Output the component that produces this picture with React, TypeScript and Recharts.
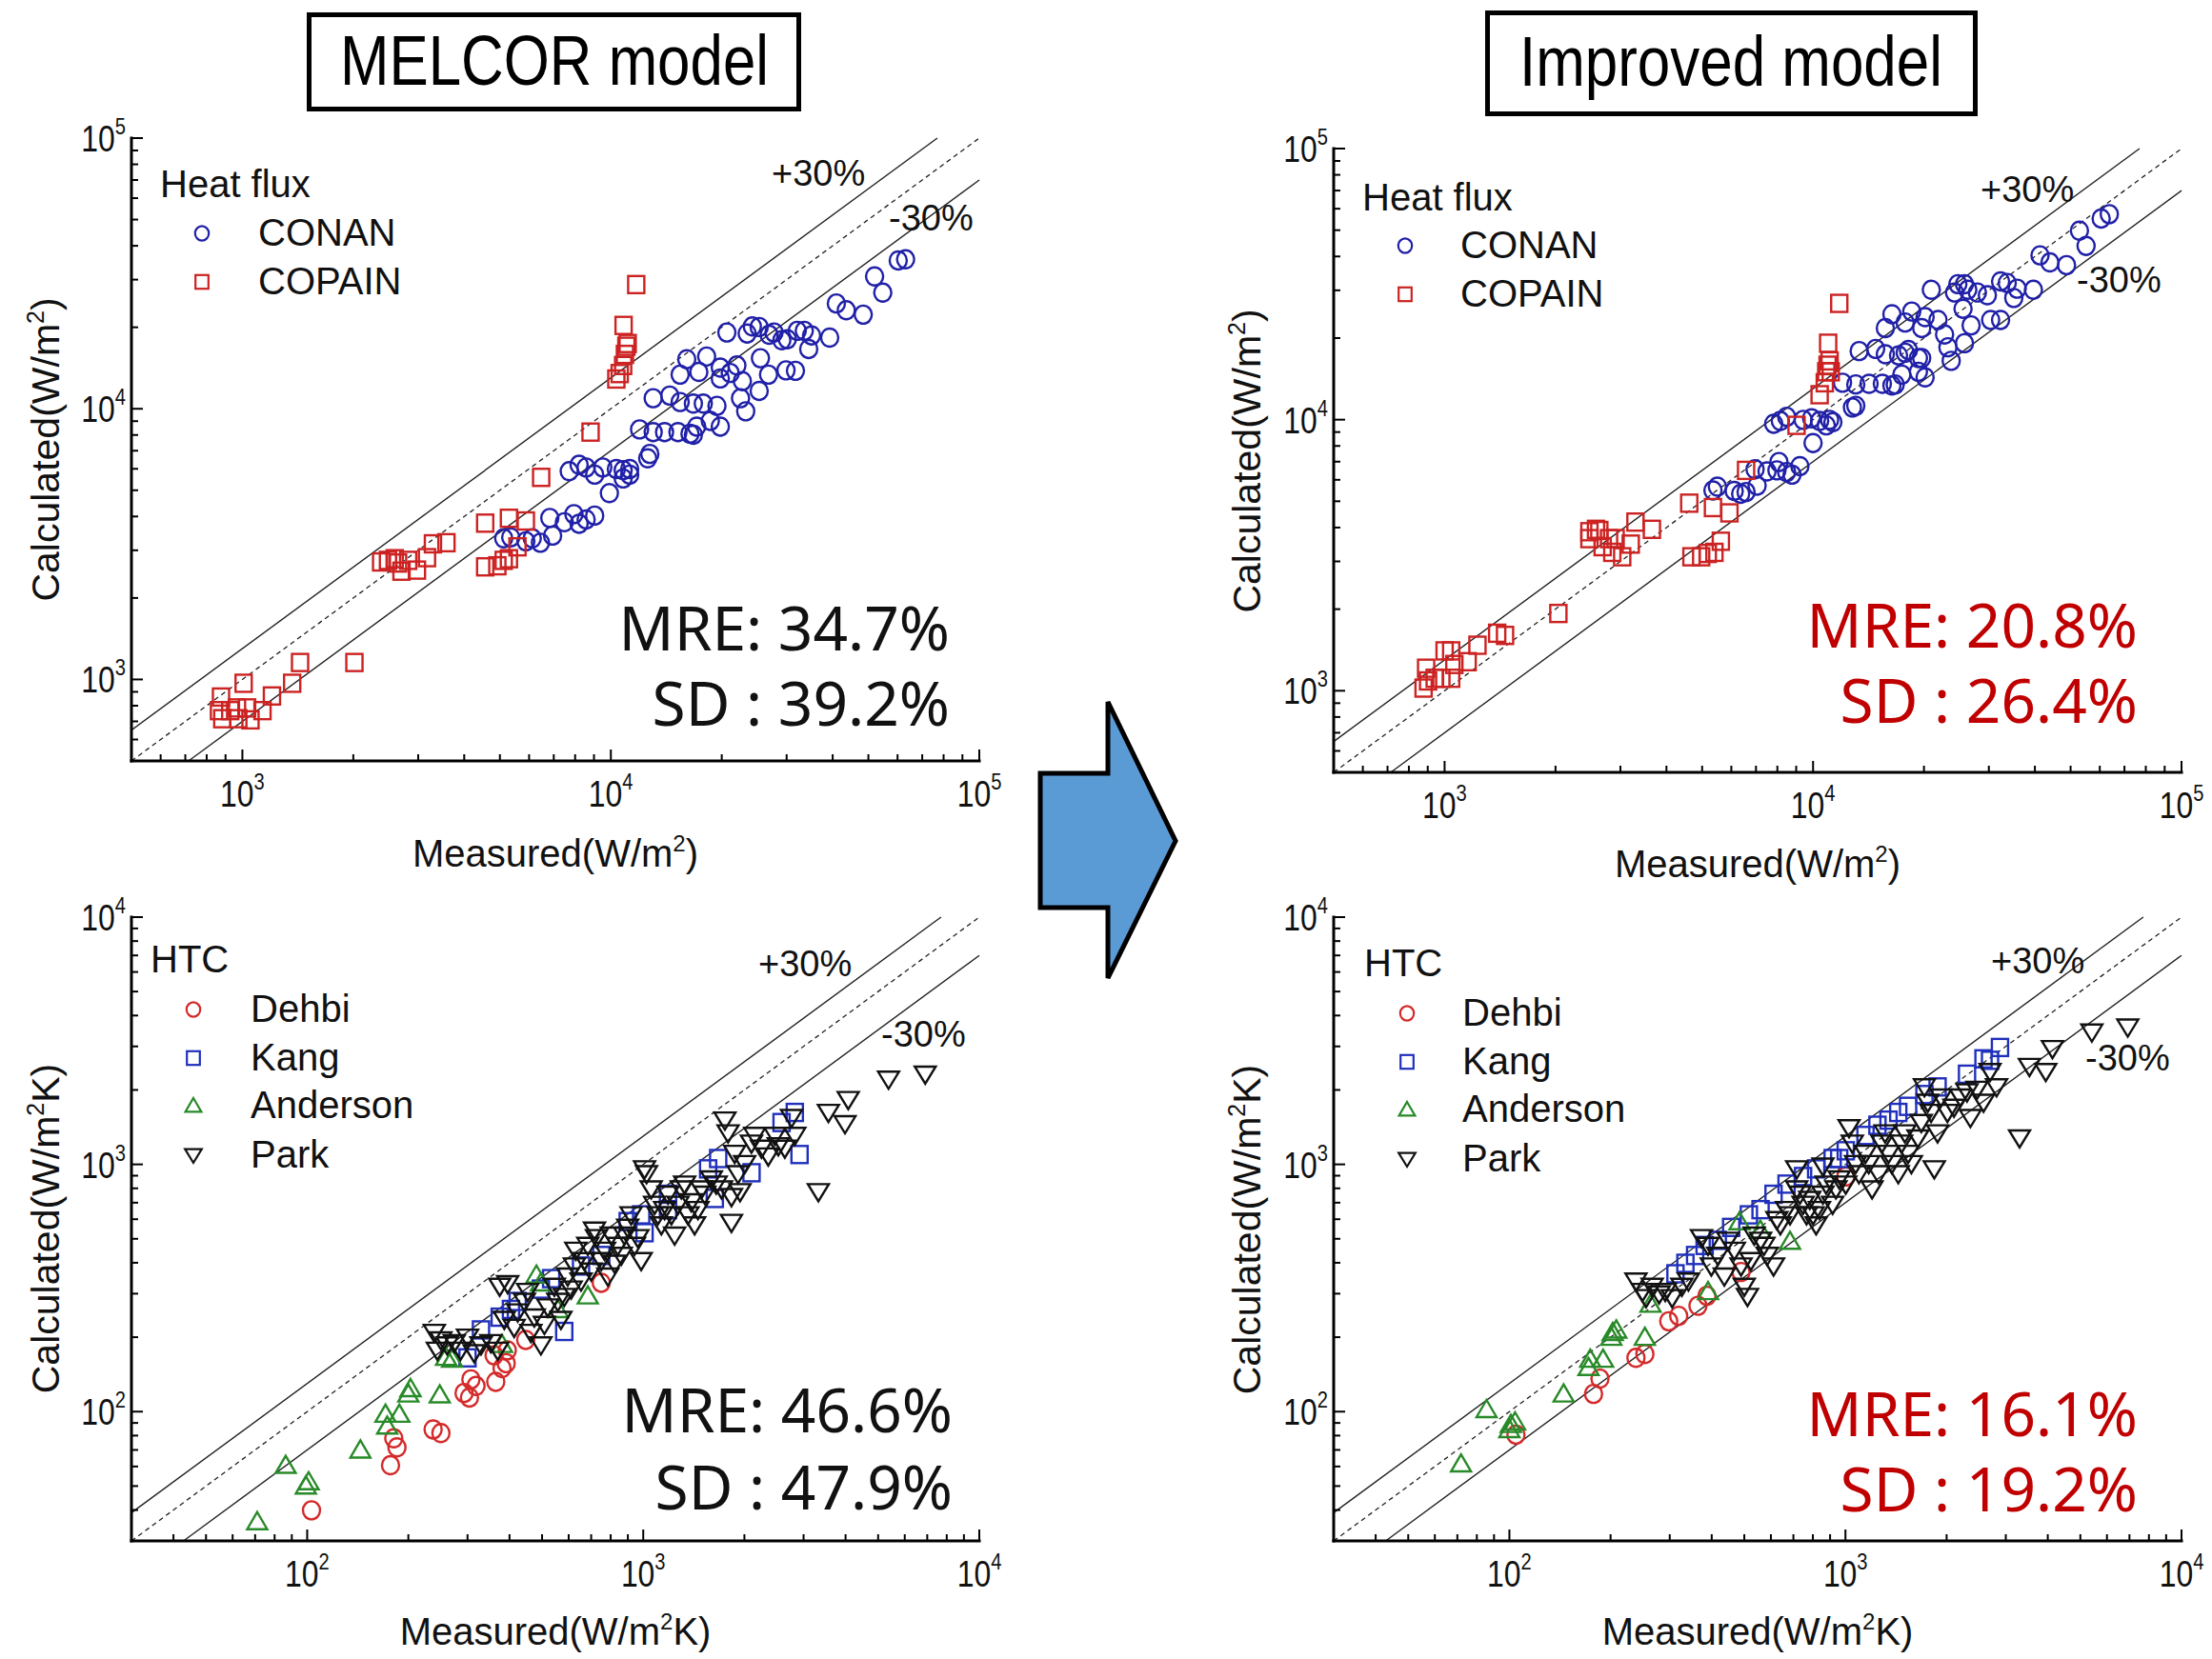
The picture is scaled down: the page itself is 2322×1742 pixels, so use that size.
import React from 'react';
import { ScatterChart, Scatter, XAxis, YAxis, ReferenceLine } from 'recharts';

const FONT = '"Liberation Sans", Arial, Helvetica, sans-serif';
const MFONT = '"Noto Sans", "Open Sans", sans-serif';

// ---------- data (measured, calculated) ----------
const melcorConan = [[5120,3320],[5350,3350],[5880,3240],[6120,3320],[6440,3200],[6950,3400],[6830,3950],[7480,3810],[7940,4080],[8200,3760],[8570,3900],[9040,4030],[7710,5880],[8200,6210],[8570,6070],[9040,5710],[9510,6070],[9910,4880],[10350,5990],[10800,5930],[11250,5710],[10800,5530],[11250,5990],[12590,6560],[12760,6810],[11970,8390],[13030,8200],[13990,8200],[15210,8200],[16400,8090],[16750,8020],[13030,10940],[14450,11190],[15420,10590],[16750,10450],[17820,10450],[17100,8590],[18620,9020],[19820,8590],[15420,13370],[16070,15240],[17330,13680],[18200,15600],[19820,14190],[19820,12940],[21090,13560],[21980,14450],[19410,10250],[22490,10940],[23230,9790],[22750,12650],[20650,19140],[23440,18970],[24210,20140],[25270,20040],[25470,15380],[25270,11640],[26790,13370],[26890,18760],[27730,19140],[29110,17910],[30130,18070],[29880,13870],[31700,13810],[32060,19410],[33500,19410],[34440,16630],[35060,18660],[39260,18320],[40930,24490],[43550,23120],[48420,22280],[51980,30830],[54700,26850],[60250,35320],[63100,35650]];
const melcorCopain = [[875,861],[864,767],[882,716],[927,767],[967,785],[975,716],[1030,785],[1052,709],[1008,968],[1134,767],[1203,869],[1365,968],[1434,1155],[2014,1155],[2380,2717],[2484,2754],[2590,2793],[2646,2692],[2703,2512],[2818,2754],[2977,2535],[3170,2818],[3290,3170],[3580,3200],[4560,2606],[4920,2630],[5120,2754],[5290,2793],[5580,3090],[4560,3780],[5290,3940],[5880,3850],[6470,5580],[8810,8200],[10350,12880],[10570,13490],[10800,14450],[10920,15880],[11020,17020],[11110,17420],[10830,20320],[11720,28760]];
const improvedConan = [[5350,5480],[5500,5660],[6110,5460],[6360,5330],[6580,5410],[7050,5710],[6960,6560],[7500,6440],[7980,6500],[8080,6980],[8480,6410],[8770,6270],[9210,6740],[7820,9660],[8150,9890],[8480,10250],[9400,9980],[9910,10120],[10420,9890],[10860,9530],[11320,9790],[10000,8200],[11090,9980],[12790,11090],[13060,11250],[12020,13680],[13060,13490],[14190,13560],[15420,13560],[16370,13370],[16710,13490],[17420,14660],[19320,15020],[20140,14320],[19320,16870],[13340,17910],[14790,18240],[15710,17420],[17060,17260],[17780,17660],[18150,18070],[19720,16870],[15710,21780],[16370,24490],[17780,22820],[18530,25060],[19720,21780],[20140,23880],[21830,23330],[22750,20610],[23230,18490],[23710,16480],[20940,30130],[24210,29440],[24720,31620],[25760,31620],[26300,30130],[26850,22280],[27930,29440],[29720,28760],[30340,23330],[32280,23330],[32280,32360],[33650,31920],[35060,28120],[35810,30410],[39630,30130],[41300,40360],[43950,38020],[48750,37150],[52840,49770],[55080,43750],[60530,55210],[63680,57280],[25530,25650],[25760,19140]];
const improvedCopain = [[877,1023],[891,1211],[902,1087],[940,1112],[980,1112],[1000,1403],[1042,1403],[1042,1112],[1063,1250],[1155,1280],[1228,1472],[1389,1630],[1459,1600],[2036,1928],[2472,3640],[2472,3860],[2576,3940],[2630,3900],[2685,3400],[2795,3640],[2852,3240],[2912,3640],[3034,3120],[3200,3475],[3296,4190],[3653,3940],[4613,4920],[4677,3120],[4970,3120],[5180,3210],[5400,3240],[5350,4740],[5620,3560],[5930,4530],[6580,6500],[9020,9530],[10420,12360],[10760,13680],[10860,15020],[10950,15880],[11090,16480],[11170,15020],[10990,19140],[11780,26850]];

const melcorDehbi = [[103,39.9],[177,60.7],[181,78],[185,71.7],[237,84.7],[250,81.9],[293,119],[304,114],[307,135],[318,127],[364,132],[380,150],[391,157],[360,169],[447,195],[750,332],[394,177]];
const melcorKang = [[329,214],[374,241],[404,259],[496,313],[582,211],[532,345],[899,587],[1009,529],[1185,757],[1560,959],[1633,728],[1671,1056],[2100,925],[2580,1476],[2825,1622],[2918,1096],[1185,656],[750,428],[653,388],[986,625],[423,279],[300,165]];
const melcorAnderson = [[71,35.9],[86.3,60.7],[99.1,50.1],[101,52.1],[144,70],[171,97.7],[173,87.5],[188,97.7],[200,118],[203,124],[248,117],[259,166],[270,163],[380,187],[481,357],[684,294],[557,259],[496,332]];
const melcorPark = [[239,209],[250,195],[261,186],[244,177],[274,190],[286,177],[300,200],[314,173],[329,186],[352,190],[369,177],[374,321],[395,329],[386,236],[413,219],[423,253],[443,279],[453,306],[474,241],[463,209],[496,186],[508,225],[520,265],[544,321],[557,279],[569,236],[582,292],[596,353],[610,313],[624,388],[630,449],[653,337],[668,408],[684,470],[700,370],[716,542],[726,505],[750,408],[767,449],[785,353],[803,517],[822,398],[840,470],[860,428],[880,517],[899,556],[920,625],[942,470],[964,505],[986,408],[1009,959],[1023,916],[1056,795],[1081,689],[1106,625],[1132,569],[1158,656],[1185,757],[1213,625],[1240,517],[1269,689],[1298,795],[1328,832],[1359,625],[1390,705],[1422,569],[1455,656],[1489,795],[1524,757],[1595,873],[1648,832],[1710,795],[1750,1510],[1788,1340],[1830,740],[1830,582],[1871,1107],[1915,916],[1941,775],[2004,1007],[2099,1218],[2147,1309],[2248,1162],[2355,1081],[2466,1309],[2523,1189],[2638,1162],[2762,1545],[2825,1309],[3320,775],[3557,1622],[3985,1459],[4074,1828],[5370,2209],[6905,2316]];

const improvedDehbi = [[104.6,80.7],[178,118],[186,136],[238,165],[253,171],[298,232],[319,244],[364,268],[387,294],[1002,893],[489,367]];
const improvedKang = [[312,361],[334,398],[357,428],[381,470],[417,493],[457,556],[516,625],[559,656],[611,757],[668,832],[748,893],[818,959],[916,1056],[1002,1135],[1147,1309],[1245,1440],[1343,1510],[1436,1622],[1536,1717],[1718,1916],[1880,2057],[2300,2316],[2575,2672],[2883,2970],[2693,2636],[958,1056]];
const improvedAnderson = [[71.8,61.5],[85.5,102],[100,84.7],[101,88.8],[104,90.9],[145,118],[172,151],[174,163],[190,163],[201,200],[203,209],[208,214],[253,200],[263,272],[390,306],[484,587],[684,489],[558,542]];
const improvedPark = [[238,337],[249,306],[255,289],[266,321],[279,299],[291,306],[305,289],[326,321],[341,337],[373,505],[390,470],[399,388],[417,428],[436,353],[447,493],[467,449],[489,388],[500,321],[511,292],[523,408],[535,517],[559,493],[572,470],[585,428],[611,388],[625,597],[640,569],[668,656],[684,625],[716,795],[732,757],[748,689],[766,625],[783,721],[801,625],[818,569],[837,656],[857,757],[876,832],[916,689],[937,795],[958,873],[1002,832],[1025,1406],[1048,1218],[1072,1007],[1097,916],[1147,1107],[1173,1007],[1200,795],[1255,916],[1283,1218],[1312,1340],[1343,1107],[1374,1007],[1436,916],[1469,1218],[1503,1340],[1536,1107],[1571,1007],[1643,1278],[1681,1476],[1718,2057],[1758,1782],[1798,1622],[1838,959],[1880,1340],[1923,1871],[2011,1622],[2103,1701],[2199,1871],[2300,1963],[2354,1545],[2462,2010],[2575,1782],[2693,2372],[2816,2057],[3297,1278],[3527,2488],[3945,2372],[4130,2938],[5410,3425],[6920,3590],[857,984],[716,959]];

// ---------- axes ----------
const fluxDomain = [500, 100000];
const htcDomain = [30, 10000];
const fluxTicks = [500,600,700,800,900,1000,2000,3000,4000,5000,6000,7000,8000,9000,10000,20000,30000,40000,50000,60000,70000,80000,90000,100000];
const htcTicks = [30,40,50,60,70,80,90,100,200,300,400,500,600,700,800,900,1000,2000,3000,4000,5000,6000,7000,8000,9000,10000];
const PLUS = 1.3;
const MINUS = 0.7;

const statsMelcorFlux = ['MRE: 34.7%', 'SD : 39.2%'];
const statsImprovedFlux = ['MRE: 20.8%', 'SD : 26.4%'];
const statsMelcorHtc = ['MRE: 46.6%', 'SD : 47.9%'];
const statsImprovedHtc = ['MRE: 16.1%', 'SD : 19.2%'];

const COLORS = {
  conan: '#2020a8',
  copain: '#cc2222',
  dehbi: '#d42a2a',
  kang: '#2030bc',
  anderson: '#288a28',
  park: '#111111',
};

const toPts = (arr: number[][]) => arr.map(([x, y]) => ({ x, y }));

const expOf = (v: number) => Math.round(Math.log10(v));
const isMajor = (v: number) => Math.abs(Math.log10(v) - expOf(v)) < 1e-9;
const MAJ = 12;
const MINL = 7;
const TICK_FS = 38;
const TICK_SX = 0.84;
const SUP_FS = 24;

function TickBottom(props: any) {
  const { x, y, payload } = props;
  const v = payload.value;
  const major = isMajor(v);
  return (
    <g>
      <line x1={x} y1={y} x2={x} y2={y - (major ? MAJ : MINL)} stroke="#000" strokeWidth={2} />
      {major && (
        <text transform={`translate(${x},${y + 48}) scale(${TICK_SX},1)`} textAnchor="middle" fontFamily={FONT} fontSize={TICK_FS} fill="#111">
          10<tspan fontSize={SUP_FS} dy={-18}>{expOf(v)}</tspan>
        </text>
      )}
    </g>
  );
}
function TickLeft(props: any) {
  const { x, y, payload } = props;
  const v = payload.value;
  const major = isMajor(v);
  return (
    <g>
      <line x1={x} y1={y} x2={x + (major ? MAJ : MINL)} y2={y} stroke="#000" strokeWidth={2} />
      {major && (
        <text transform={`translate(${x - 6},${y + 14}) scale(${TICK_SX},1)`} textAnchor="end" fontFamily={FONT} fontSize={TICK_FS} fill="#111">
          10<tspan fontSize={SUP_FS} dy={-18}>{expOf(v)}</tspan>
        </text>
      )}
    </g>
  );
}
function TickTop(props: any) {
  const { x, y, payload } = props;
  const major = isMajor(payload.value);
  return <line x1={x} y1={y} x2={x} y2={y + (major ? MAJ : MINL)} stroke="#000" strokeWidth={2} />;
}
function TickRight(props: any) {
  const { x, y, payload } = props;
  const major = isMajor(payload.value);
  return <line x1={x} y1={y} x2={x - (major ? MAJ : MINL)} y2={y} stroke="#000" strokeWidth={2} />;
}

function MarkerShape({ kind, color, cx, cy, s = 1, sw = 2.4 }: any) {
  if (cx == null || cy == null) return null;
  if (kind === 'circle') {
    return <ellipse cx={cx} cy={cy} rx={9 * s} ry={9.5 * s} fill="none" stroke={color} strokeWidth={sw} />;
  }
  if (kind === 'square') {
    return <rect x={cx - 8.5 * s} y={cy - 9 * s} width={17 * s} height={18 * s} fill="none" stroke={color} strokeWidth={sw} />;
  }
  if (kind === 'up') {
    return <polygon points={`${cx},${cy - 10 * s} ${cx + 10.5 * s},${cy + 8 * s} ${cx - 10.5 * s},${cy + 8 * s}`} fill="none" stroke={color} strokeWidth={sw} strokeLinejoin="miter" />;
  }
  return <polygon points={`${cx - 11 * s},${cy - 8 * s} ${cx + 11 * s},${cy - 8 * s} ${cx},${cy + 10 * s}`} fill="none" stroke={color} strokeWidth={sw} strokeLinejoin="miter" />;
}

type Series = { name: string; data: number[][]; kind: string; color: string };
type Box = { l: number; t: number; r: number; b: number };

const fluxMelcorSeries: Series[] = [
  { name: 'CONAN', data: melcorConan, kind: 'circle', color: COLORS.conan },
  { name: 'COPAIN', data: melcorCopain, kind: 'square', color: COLORS.copain },
];
const fluxImprovedSeries: Series[] = [
  { name: 'CONAN', data: improvedConan, kind: 'circle', color: COLORS.conan },
  { name: 'COPAIN', data: improvedCopain, kind: 'square', color: COLORS.copain },
];
const htcMelcorSeries: Series[] = [
  { name: 'Dehbi', data: melcorDehbi, kind: 'circle', color: COLORS.dehbi },
  { name: 'Kang', data: melcorKang, kind: 'square', color: COLORS.kang },
  { name: 'Anderson', data: melcorAnderson, kind: 'up', color: COLORS.anderson },
  { name: 'Park', data: melcorPark, kind: 'down', color: COLORS.park },
];
const htcImprovedSeries: Series[] = [
  { name: 'Dehbi', data: improvedDehbi, kind: 'circle', color: COLORS.dehbi },
  { name: 'Kang', data: improvedKang, kind: 'square', color: COLORS.kang },
  { name: 'Anderson', data: improvedAnderson, kind: 'up', color: COLORS.anderson },
  { name: 'Park', data: improvedPark, kind: 'down', color: COLORS.park },
];

const axisLineStyle = { stroke: '#000', strokeWidth: 3, strokeLinecap: 'square' };
const MT = 40;
const MR = 40;
const YW = 140;
const XH = 80;

function Panel({ box, domain, ticks, series }: { box: Box; domain: number[]; ticks: number[]; series: Series[] }) {
  const w = box.r - box.l;
  const h = box.b - box.t;
  const [d0, d1] = domain;
  const seg = (k: number) => {
    const x0 = Math.max(d0, d0 / k);
    const x1 = Math.min(d1, d1 / k);
    return [{ x: x0, y: x0 * k }, { x: x1, y: x1 * k }];
  };
  return (
    <div style={{ position: 'absolute', left: box.l - YW, top: box.t - MT }}>
      <ScatterChart width={w + YW + MR} height={h + MT + XH} margin={{ top: MT, right: MR, bottom: 0, left: 0 }}>
        <XAxis xAxisId={0} type="number" dataKey="x" scale="log" domain={domain} allowDataOverflow ticks={ticks} interval={0}
          tickSize={0} tickMargin={0} tickLine={false} tick={TickBottom} axisLine={axisLineStyle} height={XH} />
        <XAxis xAxisId="top" orientation="top" type="number" dataKey="x" scale="log" domain={domain} allowDataOverflow ticks={ticks} interval={0}
          tickSize={0} tickMargin={0} tickLine={false} tick={TickTop} axisLine={axisLineStyle} height={0} />
        <YAxis yAxisId={0} type="number" dataKey="y" scale="log" domain={domain} allowDataOverflow ticks={ticks} interval={0}
          tickSize={0} tickMargin={0} tickLine={false} tick={TickLeft} axisLine={axisLineStyle} width={YW} />
        <YAxis yAxisId="right" orientation="right" type="number" dataKey="y" scale="log" domain={domain} allowDataOverflow ticks={ticks} interval={0}
          tickSize={0} tickMargin={0} tickLine={false} tick={TickRight} axisLine={axisLineStyle} width={0} />
        <ReferenceLine xAxisId={0} yAxisId={0} segment={seg(PLUS)} stroke="#222" strokeWidth={1.4} ifOverflow="visible" />
        <ReferenceLine xAxisId={0} yAxisId={0} segment={seg(1)} stroke="#222" strokeWidth={1.3} strokeDasharray="5 4" ifOverflow="visible" />
        <ReferenceLine xAxisId={0} yAxisId={0} segment={seg(MINUS)} stroke="#222" strokeWidth={1.4} ifOverflow="visible" />
        {series.map((s) => (
          <Scatter key={s.name} name={s.name} xAxisId={0} yAxisId={0} data={toPts(s.data)} isAnimationActive={false}
            shape={(p: any) => <MarkerShape kind={s.kind} color={s.color} cx={p.cx} cy={p.cy} />} />
        ))}
      </ScatterChart>
    </div>
  );
}

const boxTL: Box = { l: 138, t: 145, r: 1028, b: 799 };
const boxTR: Box = { l: 1400, t: 156, r: 2290, b: 811 };
const boxBL: Box = { l: 138, t: 963, r: 1028, b: 1618 };
const boxBR: Box = { l: 1400, t: 963, r: 2290, b: 1618 };

function Legend({ title, x, y, series, mx, tx, rows }: any) {
  return (
    <g fontFamily={FONT} fill="#111">
      <text x={x} y={y} fontSize={40}>{title}</text>
      {series.map((s: Series, i: number) => (
        <g key={s.name}>
          <MarkerShape kind={s.kind} color={s.color} cx={mx} cy={rows[i]} s={0.8} sw={2.2} />
          <text x={tx} y={rows[i] + 13} fontSize={40}>{s.name}</text>
        </g>
      ))}
    </g>
  );
}

function Stats({ lines, right, y1, y2, color }: any) {
  return (
    <g fontFamily={MFONT} fontSize={64} fill={color} textAnchor="end">
      <text x={right} y={y1}>{lines[0]}</text>
      <text x={right} y={y2}>{lines[1]}</text>
    </g>
  );
}

function PctLabels({ px, py, mx, my }: any) {
  return (
    <g fontFamily={FONT} fontSize={38} fill="#111">
      <text x={px} y={py}>+30%</text>
      <text x={mx} y={my}>-30%</text>
    </g>
  );
}

function XTitle({ cx, y, unitK }: any) {
  return (
    <text x={cx} y={y} textAnchor="middle" fontFamily={FONT} fontSize={40} fill="#111">
      Measured(W/m<tspan fontSize={24} dy={-16}>2</tspan><tspan dy={16}>{unitK ? 'K)' : ')'}</tspan>
    </text>
  );
}
function YTitle({ x, cy, unitK }: any) {
  return (
    <text transform={`translate(${x},${cy}) rotate(-90)`} textAnchor="middle" fontFamily={FONT} fontSize={41} fill="#111">
      Calculated(W/m<tspan fontSize={25} dy={-16}>2</tspan><tspan dy={16}>{unitK ? 'K)' : ')'}</tspan>
    </text>
  );
}

export default function App() {
  return (
    <div style={{ position: 'absolute', left: 0, top: 0, width: 2322, height: 1742, background: '#fff', overflow: 'hidden' }}>
      <Panel box={boxTL} domain={fluxDomain} ticks={fluxTicks} series={fluxMelcorSeries} />
      <Panel box={boxTR} domain={fluxDomain} ticks={fluxTicks} series={fluxImprovedSeries} />
      <Panel box={boxBL} domain={htcDomain} ticks={htcTicks} series={htcMelcorSeries} />
      <Panel box={boxBR} domain={htcDomain} ticks={htcTicks} series={htcImprovedSeries} />
      <svg width={2322} height={1742} style={{ position: 'absolute', left: 0, top: 0, pointerEvents: 'none' }}>
        {/* titles */}
        <rect x={324.5} y={15.5} width={514} height={99} fill="#fff" stroke="#000" strokeWidth={5} />
        <text x={357} y={89} fontFamily={FONT} fontSize={74} textLength={450} lengthAdjust="spacingAndGlyphs" fill="#000">MELCOR model</text>
        <rect x={1561.5} y={13.5} width={512} height={106} fill="#fff" stroke="#000" strokeWidth={5} />
        <text x={1595} y={90} fontFamily={FONT} fontSize={74} textLength={444} lengthAdjust="spacingAndGlyphs" fill="#000">Improved model</text>

        {/* arrow */}
        <polygon points="1092,812 1163,812 1163,737 1234,883 1163,1027 1163,953 1092,953" fill="#5b9bd5" stroke="#000" strokeWidth={5} strokeLinejoin="miter" />

        {/* axis titles */}
        <XTitle cx={583} y={910} />
        <XTitle cx={1845} y={921} />
        <XTitle cx={583} y={1727} unitK />
        <XTitle cx={1845} y={1727} unitK />
        <YTitle x={62} cy={472} />
        <YTitle x={1323} cy={484} />
        <YTitle x={62} cy={1290} unitK />
        <YTitle x={1323} cy={1291} unitK />

        {/* legends */}
        <Legend title="Heat flux" x={168} y={207} series={fluxMelcorSeries} mx={212} tx={271} rows={[245, 296]} />
        <Legend title="Heat flux" x={1430} y={221} series={fluxImprovedSeries} mx={1475} tx={1533} rows={[258, 309]} />
        <Legend title="HTC" x={158} y={1021} series={htcMelcorSeries} mx={203} tx={263} rows={[1060, 1111, 1161, 1213]} />
        <Legend title="HTC" x={1432} y={1025} series={htcImprovedSeries} mx={1477} tx={1535} rows={[1064, 1115, 1165, 1217]} />

        {/* +/-30% labels */}
        <PctLabels px={810} py={195} mx={933} my={242} />
        <PctLabels px={2079} py={212} mx={2180} my={307} />
        <PctLabels px={796} py={1025} mx={925} my={1099} />
        <PctLabels px={2090} py={1022} mx={2189} my={1124} />

        {/* statistics */}
        <Stats lines={statsMelcorFlux} right={997} y1={683} y2={762} color="#111" />
        <Stats lines={statsImprovedFlux} right={2244} y1={680} y2={759} color="#c00000" />
        <Stats lines={statsMelcorHtc} right={1000} y1={1504} y2={1585} color="#111" />
        <Stats lines={statsImprovedHtc} right={2244} y1={1508} y2={1587} color="#c00000" />
      </svg>
    </div>
  );
}
